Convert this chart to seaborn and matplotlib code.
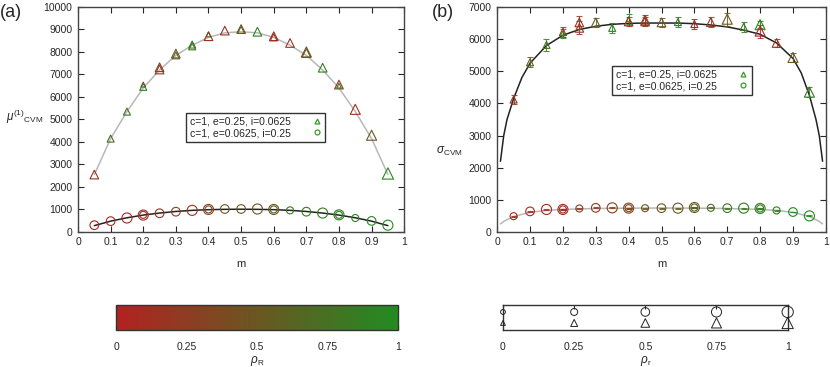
import numpy as np
import pandas as pd
import seaborn as sns
import matplotlib.pyplot as plt
from matplotlib.colors import LinearSegmentedColormap, Normalize
from matplotlib.cm import ScalarMappable
from matplotlib.lines import Line2D
from matplotlib.ticker import FuncFormatter

# ---- values ----
m_grid = [0.05, 0.1, 0.15, 0.2, 0.25, 0.3, 0.35, 0.4, 0.45, 0.5,
          0.55, 0.6, 0.65, 0.7, 0.75, 0.8, 0.85, 0.9, 0.95]

# (a) mu, triangles: c=1, e=0.25, i=0.0625
mu_tri_m = [0.05, 0.1, 0.15, 0.2, 0.2, 0.25, 0.25, 0.3, 0.3, 0.35, 0.35, 0.4, 0.4, 0.45,
            0.5, 0.5, 0.55, 0.6, 0.6, 0.65, 0.7, 0.7, 0.75, 0.8, 0.8, 0.85, 0.9, 0.95]
mu_tri_val = [2550, 4150, 5350, 6550, 6450, 7320, 7220, 7930, 7850, 8330, 8250, 8780, 8700, 8950,
              9020, 8980, 8900, 8700, 8650, 8400, 8000, 7950, 7300, 6550, 6500, 5450, 4300, 2600]
mu_tri_rhoR = [0.2, 0.7, 0.8, 0.0, 1.0, 0.2, 0.3, 0.5, 0.6, 0.9, 0.8, 1.0, 0.15, 0.2,
               0.5, 0.5, 0.9, 0.2, 0.1, 0.2, 0.5, 0.5, 0.9, 0.15, 0.9, 0.2, 0.5, 0.9]
mu_tri_rhor = [0.5, 0.25, 0.25, 0.0, 0.25, 0.5, 0.5, 0.5, 0.25, 0.25, 0.25, 0.0, 0.5, 0.5,
               0.5, 0.25, 0.5, 0.5, 0.25, 0.5, 0.75, 0.5, 0.5, 0.5, 0.0, 0.75, 0.75, 1.0]
mu_tri_fit = [2550, 4150, 5350, 6400, 7200, 7850, 8300, 8650, 8850, 8900,
              8850, 8650, 8300, 7850, 7200, 6400, 5350, 4150, 2550]

# (a) mu, circles: c=1, e=0.0625, i=0.25
mu_cir_m = [0.05, 0.1, 0.15, 0.2, 0.2, 0.25, 0.3, 0.35, 0.4, 0.4, 0.45, 0.5, 0.55,
            0.6, 0.6, 0.65, 0.7, 0.75, 0.8, 0.8, 0.85, 0.9, 0.95]
mu_cir_val = [300, 480, 620, 750, 760, 830, 900, 960, 1000, 1000, 1020, 1020, 1020,
              1000, 1000, 960, 900, 840, 760, 760, 620, 490, 300]
mu_cir_rhoR = [0.05, 0.1, 0.05, 0.1, 0.1, 0.2, 0.25, 0.2, 0.35, 0.35, 0.5, 0.5, 0.45,
               0.55, 0.55, 0.8, 0.85, 0.85, 0.9, 0.9, 0.9, 0.95, 1.0]
mu_cir_rhor = [0.5, 0.5, 0.75, 0.75, 0.25, 0.5, 0.5, 0.75, 0.75, 0.25, 0.5, 0.5, 0.75,
               0.75, 0.25, 0.25, 0.5, 0.75, 0.75, 0.25, 0.25, 0.5, 0.75]
mu_cir_fit = [280, 480, 630, 750, 840, 910, 960, 990, 1005, 1010,
              1005, 990, 960, 910, 840, 750, 630, 480, 280]

# (b) sigma, triangles
sg_tri_m = [0.05, 0.1, 0.15, 0.2, 0.2, 0.25, 0.25, 0.3, 0.35, 0.4, 0.4, 0.45, 0.45,
            0.5, 0.55, 0.6, 0.65, 0.7, 0.75, 0.8, 0.8, 0.85, 0.9, 0.95]
sg_tri_val = [4120, 5280, 5820, 6220, 6180, 6520, 6350, 6520, 6350, 6620, 6550, 6600, 6550,
              6520, 6530, 6470, 6530, 6620, 6380, 6450, 6250, 5880, 5430, 4350]
sg_tri_err = [150, 150, 180, 150, 150, 200, 200, 150, 150, 150, 150, 150, 150,
              150, 150, 150, 150, 200, 150, 100, 200, 120, 150, 150]
sg_tri_rhoR = [0.2, 0.55, 0.8, 0.05, 0.9, 0.2, 0.25, 0.55, 0.9, 1.0, 0.15, 0.2, 0.25,
               0.5, 0.85, 0.05, 0.2, 0.5, 0.85, 0.95, 0.05, 0.2, 0.5, 0.85]
sg_tri_rhor = [0.25, 0.25, 0.25, 0.25, 0.0, 0.5, 0.5, 0.5, 0.25, 0.0, 0.5, 0.5, 0.5,
               0.5, 0.25, 0.25, 0.5, 0.75, 0.25, 0.75, 0.75, 0.5, 0.75, 0.75]
sg_tri_fit_m = [0.01, 0.02, 0.03, 0.05, 0.075, 0.1, 0.15, 0.2, 0.25, 0.3, 0.35, 0.4, 0.45, 0.5,
                0.55, 0.6, 0.65, 0.7, 0.75, 0.8, 0.85, 0.9, 0.925, 0.95, 0.97, 0.98, 0.99]
sg_tri_fit = [2200, 3000, 3500, 4150, 4800, 5250, 5800, 6120, 6300, 6400, 6460, 6490, 6500, 6500,
              6500, 6480, 6440, 6380, 6280, 6150, 5880, 5400, 4950, 4250, 3500, 3000, 2200]

# (b) sigma, circles
sg_cir_m = [0.05, 0.1, 0.15, 0.2, 0.2, 0.25, 0.3, 0.35, 0.4, 0.4, 0.45, 0.5, 0.55,
            0.6, 0.6, 0.65, 0.7, 0.75, 0.8, 0.8, 0.85, 0.9, 0.95]
sg_cir_val = [490, 640, 700, 700, 700, 730, 750, 750, 740, 740, 740, 740, 740,
              760, 760, 750, 740, 740, 730, 730, 670, 620, 500]
sg_cir_rhoR = [0.05, 0.1, 0.1, 0.15, 0.15, 0.25, 0.25, 0.3, 0.35, 0.35, 0.5, 0.5, 0.55,
               0.6, 0.6, 0.7, 0.8, 0.85, 0.85, 0.85, 0.9, 0.95, 1.0]
sg_cir_rhor = [0.25, 0.5, 0.75, 0.75, 0.25, 0.25, 0.5, 0.75, 0.75, 0.25, 0.25, 0.5, 0.75,
               0.75, 0.25, 0.25, 0.5, 0.75, 0.75, 0.25, 0.25, 0.5, 0.75]
sg_cir_fit_m = [0.01, 0.02, 0.05, 0.1, 0.15, 0.2, 0.3, 0.4, 0.5, 0.6, 0.7, 0.8, 0.85, 0.9,
                0.95, 0.98, 0.99]
sg_cir_fit = [250, 330, 480, 610, 670, 700, 730, 740, 745, 740, 730, 700, 670, 610,
              480, 330, 250]

rho_levels = [0, 0.25, 0.5, 0.75, 1]
leg_labels = ['c=1, e=0.25, i=0.0625', 'c=1, e=0.0625, i=0.25']

# ---- style ----
sns.set_style('ticks')
plt.rcParams['font.family'] = ['Liberation Sans', 'DejaVu Sans']
plt.rcParams['mathtext.fontset'] = 'custom'
plt.rcParams['mathtext.rm'] = 'Liberation Sans'
plt.rcParams['mathtext.it'] = 'Liberation Sans:italic'
FS = 7.5

cmap = LinearSegmentedColormap.from_list('rg', ['#b22222', '#228b22'])
SIZES = (12, 66)


def hollow(ax, m, v, rR, rr, marker, lw=0.8):
    df = pd.DataFrame({'m': m, 'v': v, 'rhoR': rR, 'rhor': rr})
    sns.scatterplot(data=df, x='m', y='v', hue='rhoR', size='rhor', palette=cmap,
                    hue_norm=(0, 1), size_norm=(0, 1), sizes=SIZES, marker=marker,
                    legend=False, ax=ax, linewidth=lw, zorder=4)
    pc = ax.collections[-1]
    pc.set_edgecolors(pc.get_facecolors())
    pc.set_facecolors('none')


def style_axes(ax, ymax):
    ax.set_xlim(0, 1)
    ax.set_ylim(0, ymax)
    ax.set_xticks(np.arange(0, 1.01, 0.1))
    ax.set_yticks(np.arange(0, ymax + 1, 1000))
    ax.xaxis.set_major_formatter(FuncFormatter(lambda x, p: '%g' % round(x, 2)))
    ax.tick_params(direction='in', length=4, top=True, right=True, labelsize=FS,
                   width=0.8, pad=4)
    for s in ax.spines.values():
        s.set_visible(True)
        s.set_color('#444444')
        s.set_linewidth(1.0)
    ax.set_xlabel('m', fontsize=FS + 0.5, labelpad=8)


def add_legend(ax, anchor):
    h = [Line2D([], [], ls='none', marker='^', ms=3.5, mfc='none', mec='#3a9a2a', mew=0.9),
         Line2D([], [], ls='none', marker='o', ms=3.5, mfc='none', mec='#3a9a2a', mew=0.9)]
    lg = ax.legend(h, leg_labels, loc='upper left', bbox_to_anchor=anchor,
                   markerfirst=False, fontsize=FS, frameon=True, fancybox=False,
                   borderaxespad=0, handletextpad=2.0, handlelength=1.0,
                   borderpad=0.35, labelspacing=0.15)
    lg.get_frame().set_edgecolor('black')
    lg.get_frame().set_linewidth(1.0)


fig = plt.figure(figsize=(8.3, 3.67), dpi=100)

# ---- panel (a) ----
ax1 = fig.add_axes([0.094, 0.368, 0.393, 0.613])
ax1.plot(m_grid, mu_tri_fit, color='#b8b8b8', lw=1.1, zorder=2)
ax1.plot(m_grid, mu_cir_fit, color='#222222', lw=1.1, zorder=2)
hollow(ax1, mu_tri_m, mu_tri_val, mu_tri_rhoR, mu_tri_rhor, '^')
hollow(ax1, mu_cir_m, mu_cir_val, mu_cir_rhoR, mu_cir_rhor, 'o')
style_axes(ax1, 10000)
ax1.set_ylabel(r'$\mu^{(1)}{}_{\mathrm{CVM}}$', fontsize=FS + 1, rotation=0,
               labelpad=0, ha='center', va='center')
ax1.yaxis.set_label_coords(-0.163, 0.51)
add_legend(ax1, (0.331, 0.529))
fig.text(0.0, 0.965, '(a)', fontsize=13, va='center', ha='left')

# ---- panel (b) ----
ax2 = fig.add_axes([0.599, 0.368, 0.396, 0.613])
ax2.plot(sg_tri_fit_m, sg_tri_fit, color='#222222', lw=1.1, zorder=2)
ax2.plot(sg_cir_fit_m, sg_cir_fit, color='#b8b8b8', lw=1.1, zorder=2)
for x, y, e, c in zip(sg_tri_m, sg_tri_val, sg_tri_err, sg_tri_rhoR):
    ax2.errorbar(x, y, yerr=e, fmt='none', ecolor=cmap(c), elinewidth=0.8,
                 capsize=2.2, capthick=0.8, zorder=3, alpha=0.85)
for x, y, c in zip(sg_cir_m, sg_cir_val, sg_cir_rhoR):
    ax2.errorbar(x, y, yerr=12, fmt='none', ecolor=cmap(c), elinewidth=0.8,
                 capsize=2.0, capthick=0.8, zorder=3, alpha=0.85)
hollow(ax2, sg_tri_m, sg_tri_val, sg_tri_rhoR, sg_tri_rhor, '^')
hollow(ax2, sg_cir_m, sg_cir_val, sg_cir_rhoR, sg_cir_rhor, 'o')
style_axes(ax2, 7000)
ax2.set_ylabel(r'$\sigma_{\mathrm{CVM}}$', fontsize=FS + 1, rotation=0, labelpad=0,
               ha='center', va='center')
ax2.yaxis.set_label_coords(-0.146, 0.356)
add_legend(ax2, (0.35, 0.738))
fig.text(0.52, 0.965, '(b)', fontsize=13, va='center', ha='left')

# ---- colour key for rho_R ----
cax = fig.add_axes([0.140, 0.101, 0.340, 0.068])
cb = fig.colorbar(ScalarMappable(Normalize(0, 1), cmap), cax=cax,
                  orientation='horizontal', ticks=rho_levels)
cb.set_ticklabels(['%g' % t for t in rho_levels])
cb.outline.set_edgecolor('#333333')
cb.outline.set_linewidth(1.0)
cax.tick_params(direction='in', length=3, top=True, bottom=True, labelsize=FS,
                pad=9, width=0.8, color='#222222')
cax.set_xlabel(r'$\rho_{\mathrm{R}}$', fontsize=FS + 1, labelpad=1)

# ---- size key for rho_r ----
lax = fig.add_axes([0.606, 0.101, 0.343, 0.068])
key = pd.DataFrame({'x': rho_levels * 2,
                    'y': [0.72] * 5 + [0.28] * 5,
                    'rhor': rho_levels * 2,
                    'shape': ['o'] * 5 + ['^'] * 5})
for shp, sub in key.groupby('shape'):
    sns.scatterplot(data=sub, x='x', y='y', size='rhor', size_norm=(0, 1),
                    sizes=SIZES, marker=shp, color='black', legend=False,
                    ax=lax, linewidth=0.7, clip_on=False, zorder=4)
    pc = lax.collections[-1]
    pc.set_edgecolors('#222222')
    pc.set_facecolors('none')
lax.set_xlim(0, 1)
lax.set_ylim(0, 1)
lax.set_yticks([])
lax.set_xticks(rho_levels)
lax.set_xticklabels(['%g' % t for t in rho_levels])
lax.tick_params(axis='x', direction='in', length=3, top=True, bottom=False,
                labelsize=FS, pad=9, width=0.8)
for s in lax.spines.values():
    s.set_visible(True)
    s.set_color('#333333')
    s.set_linewidth(1.0)
lax.set_xlabel(r'$\rho_{\mathrm{r}}$', fontsize=FS + 1, labelpad=1)
lax.set_ylabel('')

fig.savefig('out.png', dpi=100)
